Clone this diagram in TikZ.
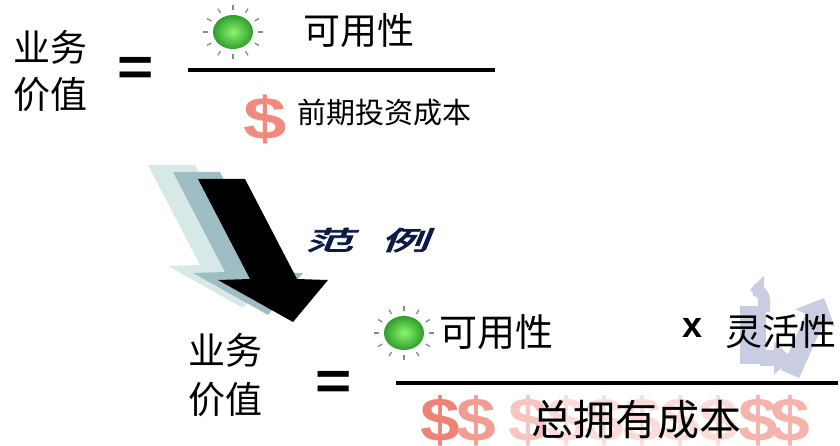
\documentclass[tikz,border=0pt]{standalone}
\usepackage{graphicx}
\usepackage{fontspec}
\setmainfont{Liberation Sans}
\newfontfamily\cjk{Noto Sans CJK SC}
\newfontfamily\cjkwide[FakeBold=3,FakeSlant=0.22]{Noto Sans CJK SC}
\usetikzlibrary{arrows.meta,calc}

\definecolor{bulbin}{HTML}{8CF56E}
\definecolor{bulbout}{HTML}{2E9E2C}
\definecolor{raygray}{HTML}{8A8A8A}
\definecolor{salmon}{HTML}{F08A7D}
\definecolor{pinkA}{HTML}{EE8275}
\definecolor{pinkB}{HTML}{F29C92}
\definecolor{pinkC}{HTML}{F7C4BF}
\definecolor{pinkD}{HTML}{FADCDA}
\definecolor{pinkE}{HTML}{F5B3AC}
\definecolor{arrowmid}{HTML}{9FBEC3}
\definecolor{arrowlight}{HTML}{D6E9E6}
\definecolor{navy}{HTML}{0B1A46}
\definecolor{cycle}{HTML}{C8CDE2}

\newcommand\bulb[3]{% centre x, centre y, radius scale
  \shade[inner color=bulbin, outer color=bulbout] (#1,#2) ellipse ({20*#3} and {17*#3});
  \foreach \a in {0,30,...,330}
    \draw[raygray, line width=1.3pt]
      ($(#1,#2)+({25*#3*cos(\a)},{22*#3*sin(\a)})$) --
      ($(#1,#2)+({30*#3*cos(\a)},{27*#3*sin(\a)})$);
}
\newcommand\widedollar[1]{\scalebox{#1}[1]{\$}}

\begin{document}
\begin{tikzpicture}[x=1pt,y=-1pt,
  cjktext/.style={inner sep=0pt, font=\cjk\fontsize{37}{40}\selectfont},
  smalltext/.style={inner sep=0pt, font=\cjk\fontsize{29}{32}\selectfont},
  bigtext/.style={inner sep=0pt, font=\cjk\fontsize{42}{46}\selectfont},
  eqsign/.style={inner sep=0pt, font=\bfseries\fontsize{54}{54}\selectfont},
  dollar/.style={inner sep=0pt, font=\bfseries\fontsize{62}{62}\selectfont},
  fracline/.style={line width=4pt}]
\useasboundingbox (0,0) rectangle (840,446);
\clip (0,0) rectangle (840,446);

% ---- top formula ----
\node[cjktext] (bv1a) at (50.5,47.5) {业务};
\node[cjktext] (bv1b) at (50.5,95) {价值};
\node[eqsign] (eq1) at (136,71) {\scalebox{1.15}[1]{=}};
\draw[fracline] (188,70) -- (495,70);
\bulb{233}{32}{1}
\node[cjktext] (av1) at (359,31) {可用性};
\node[dollar, text=salmon, font=\bfseries\fontsize{60}{60}\selectfont] (d0) at (265,119) {\widedollar{1.3}};
\node[smalltext] (cost1) at (384.5,113) {前期投资成本};

% ---- transition arrows ----
\fill[arrowlight, shift={(-50,-14)}] (198,179) -- (245,179) -- (297,279) -- (328,280) -- (293,322) -- (218,280) -- (250,279) -- cycle;
\fill[arrowmid, shift={(-25,-7)}] (198,179) -- (245,179) -- (297,279) -- (328,280) -- (293,322) -- (218,280) -- (250,279) -- cycle;
\fill[black] (198,179) -- (245,179) -- (297,279) -- (328,280) -- (293,322) -- (218,280) -- (250,279) -- cycle;
\node[inner sep=0pt, text=navy, font=\cjkwide\fontsize{26}{28}\selectfont] (ex) at (367,240) {\scalebox{1.85}[1]{范\hspace{15pt}例}};

% ---- cycle arrows behind the flexibility term ----
\draw[cycle, line width=26pt] (753,364) -- (753,306);
\draw[cycle, line width=12pt, -{Triangle[width=28pt,length=14pt]}] (764,312) -- (764,300) arc (0:-90:10) -- (750,290);
\draw[cycle, line width=16pt, -{Triangle[width=32pt,length=18pt]}] (760,358) -- (792,358);
\draw[cycle, line width=20pt, -{Triangle[width=42pt,length=22pt]}] (790,374) -- (824,298);

% ---- bottom formula ----
\node[cjktext] (bv2a) at (225,350) {业务};
\node[cjktext] (bv2b) at (225,400) {价值};
\node[eqsign] (eq2) at (334,385) {\scalebox{1.15}[1]{=}};
\draw[line width=3.5pt] (396,383) -- (838,383);
\bulb{404}{333}{1}
\node[cjktext, font=\cjk\fontsize{38}{42}\selectfont] (av2) at (496,332) {可用性};
\node[inner sep=0pt, font=\bfseries\fontsize{36}{36}\selectfont] (times) at (693,328) {x};
\node[cjktext] (flex) at (781,332) {灵活性};

\foreach \x/\c in {440/pinkA, 476/pinkB, 528/pinkC, 566/pinkD, 604/pinkD, 642/pinkD, 680/pinkD, 718/pinkD, 758/pinkE, 790/pinkE}
  \node[dollar, text=\c] at (\x,421) {\widedollar{1.15}};
\node[bigtext] (tco) at (636,420) {总拥有成本};
\end{tikzpicture}
\end{document}
